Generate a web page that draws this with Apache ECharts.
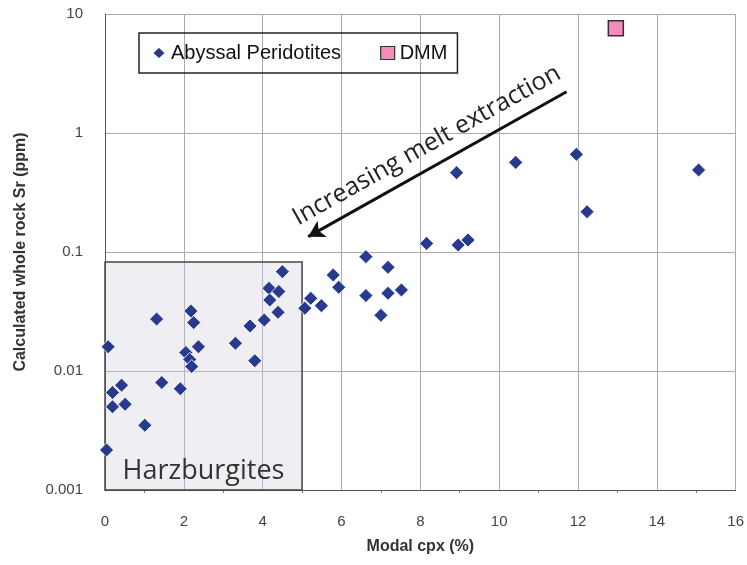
<!DOCTYPE html>
<html>
<head>
<meta charset="utf-8">
<script src="https://cdn.jsdelivr.net/npm/echarts@6/dist/echarts.min.js"></script>
<style>html,body{margin:0;padding:0;background:#fff;}#c{width:747px;height:565px;}</style>
</head>
<body>
<div id="c"></div>
<script>
// Abyssal peridotites: modal cpx (%) and calculated whole-rock Sr (ppm)
const cpx = [1.31, 0.08, 2.18, 2.25, 2.37, 2.05, 2.15, 2.20, 0.42, 0.19, 0.19, 0.51, 1.44, 1.91, 1.01, 0.04,
             4.50, 4.16, 4.41, 4.18, 4.39, 4.04, 3.68, 3.31, 3.80, 5.22, 5.07, 5.49, 5.79, 5.93,
             6.62, 7.18, 6.62, 7.18, 7.52, 7.00, 8.16, 8.92, 10.42, 11.96, 12.23, 15.06, 9.21, 8.96];
const sr  = [0.0273, 0.016, 0.0319, 0.0255, 0.016, 0.0143, 0.0125, 0.0109, 0.0076, 0.0066, 0.0050, 0.00525, 0.0080, 0.0071, 0.0035, 0.00217,
             0.0684, 0.0496, 0.0465, 0.0395, 0.0311, 0.0268, 0.0239, 0.0171, 0.0122, 0.0408, 0.0337, 0.0354, 0.0641, 0.0505,
             0.0914, 0.0744, 0.043, 0.045, 0.048, 0.0294, 0.118, 0.464, 0.566, 0.662, 0.218, 0.489, 0.126, 0.1145];
const dmmCpx = [12.96];
const dmmSr = [7.6];
const seriesNames = ['Abyssal Peridotites', 'DMM'];
const xTicks = [0, 2, 4, 6, 8, 10, 12, 14, 16];
const yTickLabels = ['0.001', '0.01', '0.1', '1', '10'];
// Harzburgite field and melt-extraction arrow (data coordinates)
const harzX = [0, 5];
const harzY = [0.001, 0.0824];
const arrowFrom = [11.71, 2.22];
const arrowTo = [5.155, 0.1346];

const chart = echarts.init(document.getElementById('c'), null, {renderer: 'canvas'});
const abyssal = cpx.map((x, i) => [x, sr[i]]);
const dmm = dmmCpx.map((x, i) => [x, dmmSr[i]]);
const gridColor = '#a9a9b2';
chart.setOption({
  animation: false,
  backgroundColor: '#fff',
  grid: {left: 105, right: 11, top: 14, bottom: 75, containLabel: false},
  legend: {
    left: 139, top: 33,
    padding: [10, 10, 10, 12],
    itemGap: 39,
    itemWidth: 14, itemHeight: 13,
    borderColor: '#222', borderWidth: 1.5,
    textStyle: {fontFamily: 'Liberation Sans', fontSize: 20, color: '#111', lineHeight: 20},
    data: [
      {name: seriesNames[0], icon: 'diamond'},
      {name: seriesNames[1], icon: 'rect', itemStyle: {borderWidth: 1.2}}
    ]
  },
  xAxis: {
    type: 'value', min: xTicks[0], max: xTicks[xTicks.length - 1], interval: 2,
    name: 'Modal cpx (%)', nameLocation: 'middle', nameGap: 49,
    nameTextStyle: {fontFamily: 'Liberation Sans', fontWeight: 'bold', fontSize: 16, color: '#333'},
    axisLine: {show: true, lineStyle: {color: '#555', width: 1}},
    axisTick: {show: false},
    minorTick: {show: true, splitNumber: 2, length: 3, lineStyle: {color: '#777'}},
    axisLabel: {fontFamily: 'Liberation Sans', fontSize: 15, color: '#444', margin: 24},
    splitLine: {show: true, lineStyle: {color: gridColor, width: 1}}
  },
  yAxis: {
    type: 'log', logBase: 10, min: 0.001, max: 10,
    name: 'Calculated whole rock Sr (ppm)', nameLocation: 'middle', nameGap: 76,
    nameTextStyle: {fontFamily: 'Liberation Sans', fontWeight: 'bold', fontSize: 16, color: '#333'},
    axisLine: {show: true, lineStyle: {color: '#555', width: 1}},
    axisTick: {show: false},
    axisLabel: {
      fontFamily: 'Liberation Sans', fontSize: 15, color: '#444', margin: 22,
      formatter: v => yTickLabels[Math.round(Math.log10(v)) + 3]
    },
    splitLine: {show: true, lineStyle: {color: gridColor, width: 1}}
  },
  series: [
    {
      name: seriesNames[0], type: 'scatter', symbol: 'diamond', symbolSize: 14,
      itemStyle: {color: '#283a8e', borderColor: '#fff', borderWidth: 0.8, opacity: 1},
      data: abyssal, z: 3,
      markArea: {
        silent: true,
        itemStyle: {color: 'rgba(205,205,220,0.35)', borderColor: '#444', borderWidth: 1.5},
        label: {show: true, position: 'insideBottom', distance: 6,
          fontFamily: 'Open Sans', fontSize: 27, color: '#333'},
        data: [[{name: 'Harzburgites', coord: [harzX[0], harzY[0]]}, {coord: [harzX[1], harzY[1]]}]]
      },
      markLine: {
        silent: true, symbol: ['none', 'arrow'], symbolSize: [14, 16],
        lineStyle: {color: '#111', width: 3, type: 'solid'},
        label: {show: true, position: 'middle', distance: 9,
          formatter: 'Increasing melt extraction',
          fontFamily: 'Open Sans', fontSize: 25, color: '#222'},
        data: [[{coord: arrowFrom}, {coord: arrowTo}]]
      }
    },
    {
      name: seriesNames[1], type: 'scatter', symbol: 'rect', symbolSize: 15,
      itemStyle: {color: '#f48cbc', borderColor: '#333', borderWidth: 1.5, opacity: 1},
      data: dmm, z: 3
    }
  ]
});
</script>
</body>
</html>
